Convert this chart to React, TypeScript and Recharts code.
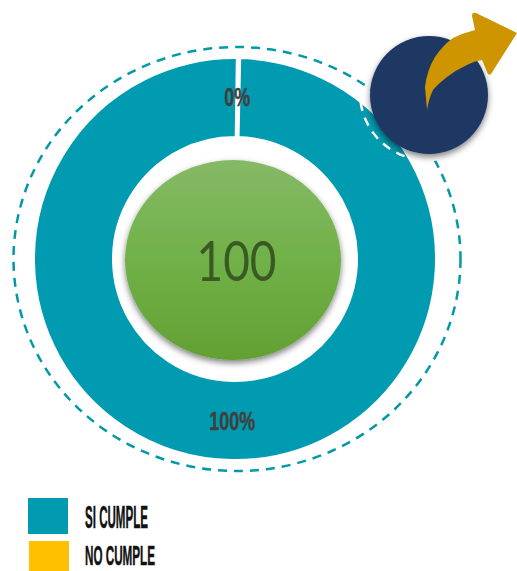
import { PieChart, Pie, Cell, Legend } from 'recharts'

const CATEGORIES = ['SI CUMPLE', 'NO CUMPLE']
const VALUES = [100, 0]
const COLORS = ['#009BB0', '#FFC000']
const CENTER_VALUE = '100'

const chartData = CATEGORIES.map((name, i) => ({ name, value: VALUES[i] }))

const NARROW = '"Liberation Sans Narrow", "Liberation Sans", sans-serif'

// etiqueta de porcentaje dentro del anillo
const renderLabel = ({ cx, cy, midAngle, innerRadius, outerRadius, value }: any) => {
  const r = (innerRadius + outerRadius) / 2 + 1
  const x = cx + r * Math.cos((midAngle * Math.PI) / 180)
  const y = cy - r * Math.sin((midAngle * Math.PI) / 180)
  const text = `${value}%`
  return (
    <text
      x={x}
      y={y}
      textAnchor="middle"
      dominantBaseline="central"
      fontFamily={NARROW}
      fontWeight={700}
      fontSize={25}
      fill="#404040"
      stroke="#404040"
      strokeWidth={0.4}
      textLength={text.length === 2 ? 26 : 46}
      lengthAdjust="spacingAndGlyphs"
    >
      {text}
    </text>
  )
}

const LegendBox = ({ payload }: any) => (
  <svg width={320} height={91} style={{ display: 'block' }}>
    {(payload || []).map((p: any, i: number) => (
      <g key={p.value}>
        <rect x={28 + i} y={18 + i * 43} width={40} height={i === 0 ? 36 : 30} fill={p.color} />
        <text
          x={85}
          y={i === 0 ? 48 : 85}
          fontFamily={NARROW}
          fontWeight={700}
          fontSize={i === 0 ? 31 : 28}
          fill="#111"
          stroke="#111"
          strokeWidth={0.5}
          textLength={i === 0 ? 63 : 70}
          lengthAdjust="spacingAndGlyphs"
        >
          {p.value}
        </text>
      </g>
    ))}
  </svg>
)

export default function App() {
  return (
    <div style={{ position: 'absolute', left: 0, top: 0, width: 517, height: 571, overflow: 'hidden' }}>
      <PieChart width={517} height={571} margin={{ top: 0, right: 0, bottom: 0, left: 0 }}>
        <ellipse cx={237} cy={259} rx={223.5} ry={212} fill="none" stroke="#009AA6" strokeWidth={2.5} strokeDasharray="9 7" />
        {/* barrido de 359.6 grados: con 360 el arco se desplaza por redondeo */}
        <Pie
          data={chartData}
          dataKey="value"
          nameKey="name"
          cx={235}
          cy={259}
          innerRadius={121}
          outerRadius={202}
          startAngle={88.8}
          endAngle={-270.8}
          stroke="#fff"
          strokeWidth={4}
          label={renderLabel}
          labelLine={false}
          isAnimationActive={false}
        >
          {chartData.map((_, i) => (
            <Cell key={i} fill={COLORS[i]} />
          ))}
        </Pie>
        <Legend
          content={<LegendBox />}
          layout="vertical"
          itemSorter={null}
          wrapperStyle={{ position: 'absolute', left: 0, top: 480, width: 320, height: 91 }}
        />
      </PieChart>
      {/* adornos encima del anillo: el Pie se pinta sobre los hijos del chart */}
      <svg width={517} height={571} style={{ position: 'absolute', left: 0, top: 0, pointerEvents: 'none' }}>
        <defs>
          <linearGradient id="verde" x1="0" y1="0" x2="0" y2="1">
            <stop offset="0%" stopColor="#86B966" />
            <stop offset="50%" stopColor="#70B148" />
            <stop offset="100%" stopColor="#62A033" />
          </linearGradient>
          <filter id="sombra" x="-20%" y="-20%" width="140%" height="140%">
            <feDropShadow dx="0" dy="3" stdDeviation="3" floodColor="#000" floodOpacity="0.5" />
          </filter>
        </defs>
        <ellipse cx={233} cy={260} rx={108} ry={100} fill="url(#verde)" filter="url(#sombra)" />
        <text
          x={236.5}
          y={281}
          textAnchor="middle"
          fontFamily="Lato, sans-serif"
          fontSize={57}
          fill="#3A5A24"
          textLength={80}
          lengthAdjust="spacingAndGlyphs"
        >
          {CENTER_VALUE}
        </text>
        <circle cx={427} cy={93} r={67} fill="none" stroke="#fff" strokeWidth={2.5} strokeDasharray="9 7" />
        <circle cx={429} cy={95} r={59} fill="#1F3864" filter="url(#sombra)" />
        <path
          d="M427 110 L425 87 Q427 70 435 57 Q443 45 453 38 Q463 33 475 30 L472 16 Q472 12 476 13 L517 33 L491 74 Q488 76 487 72 L482 60 Q474 61 467 65 Q456 70 447 77 Q438 84 433 90 Q429 98 427 110 Z"
          fill="#CF9500"
        />
      </svg>
    </div>
  )
}
